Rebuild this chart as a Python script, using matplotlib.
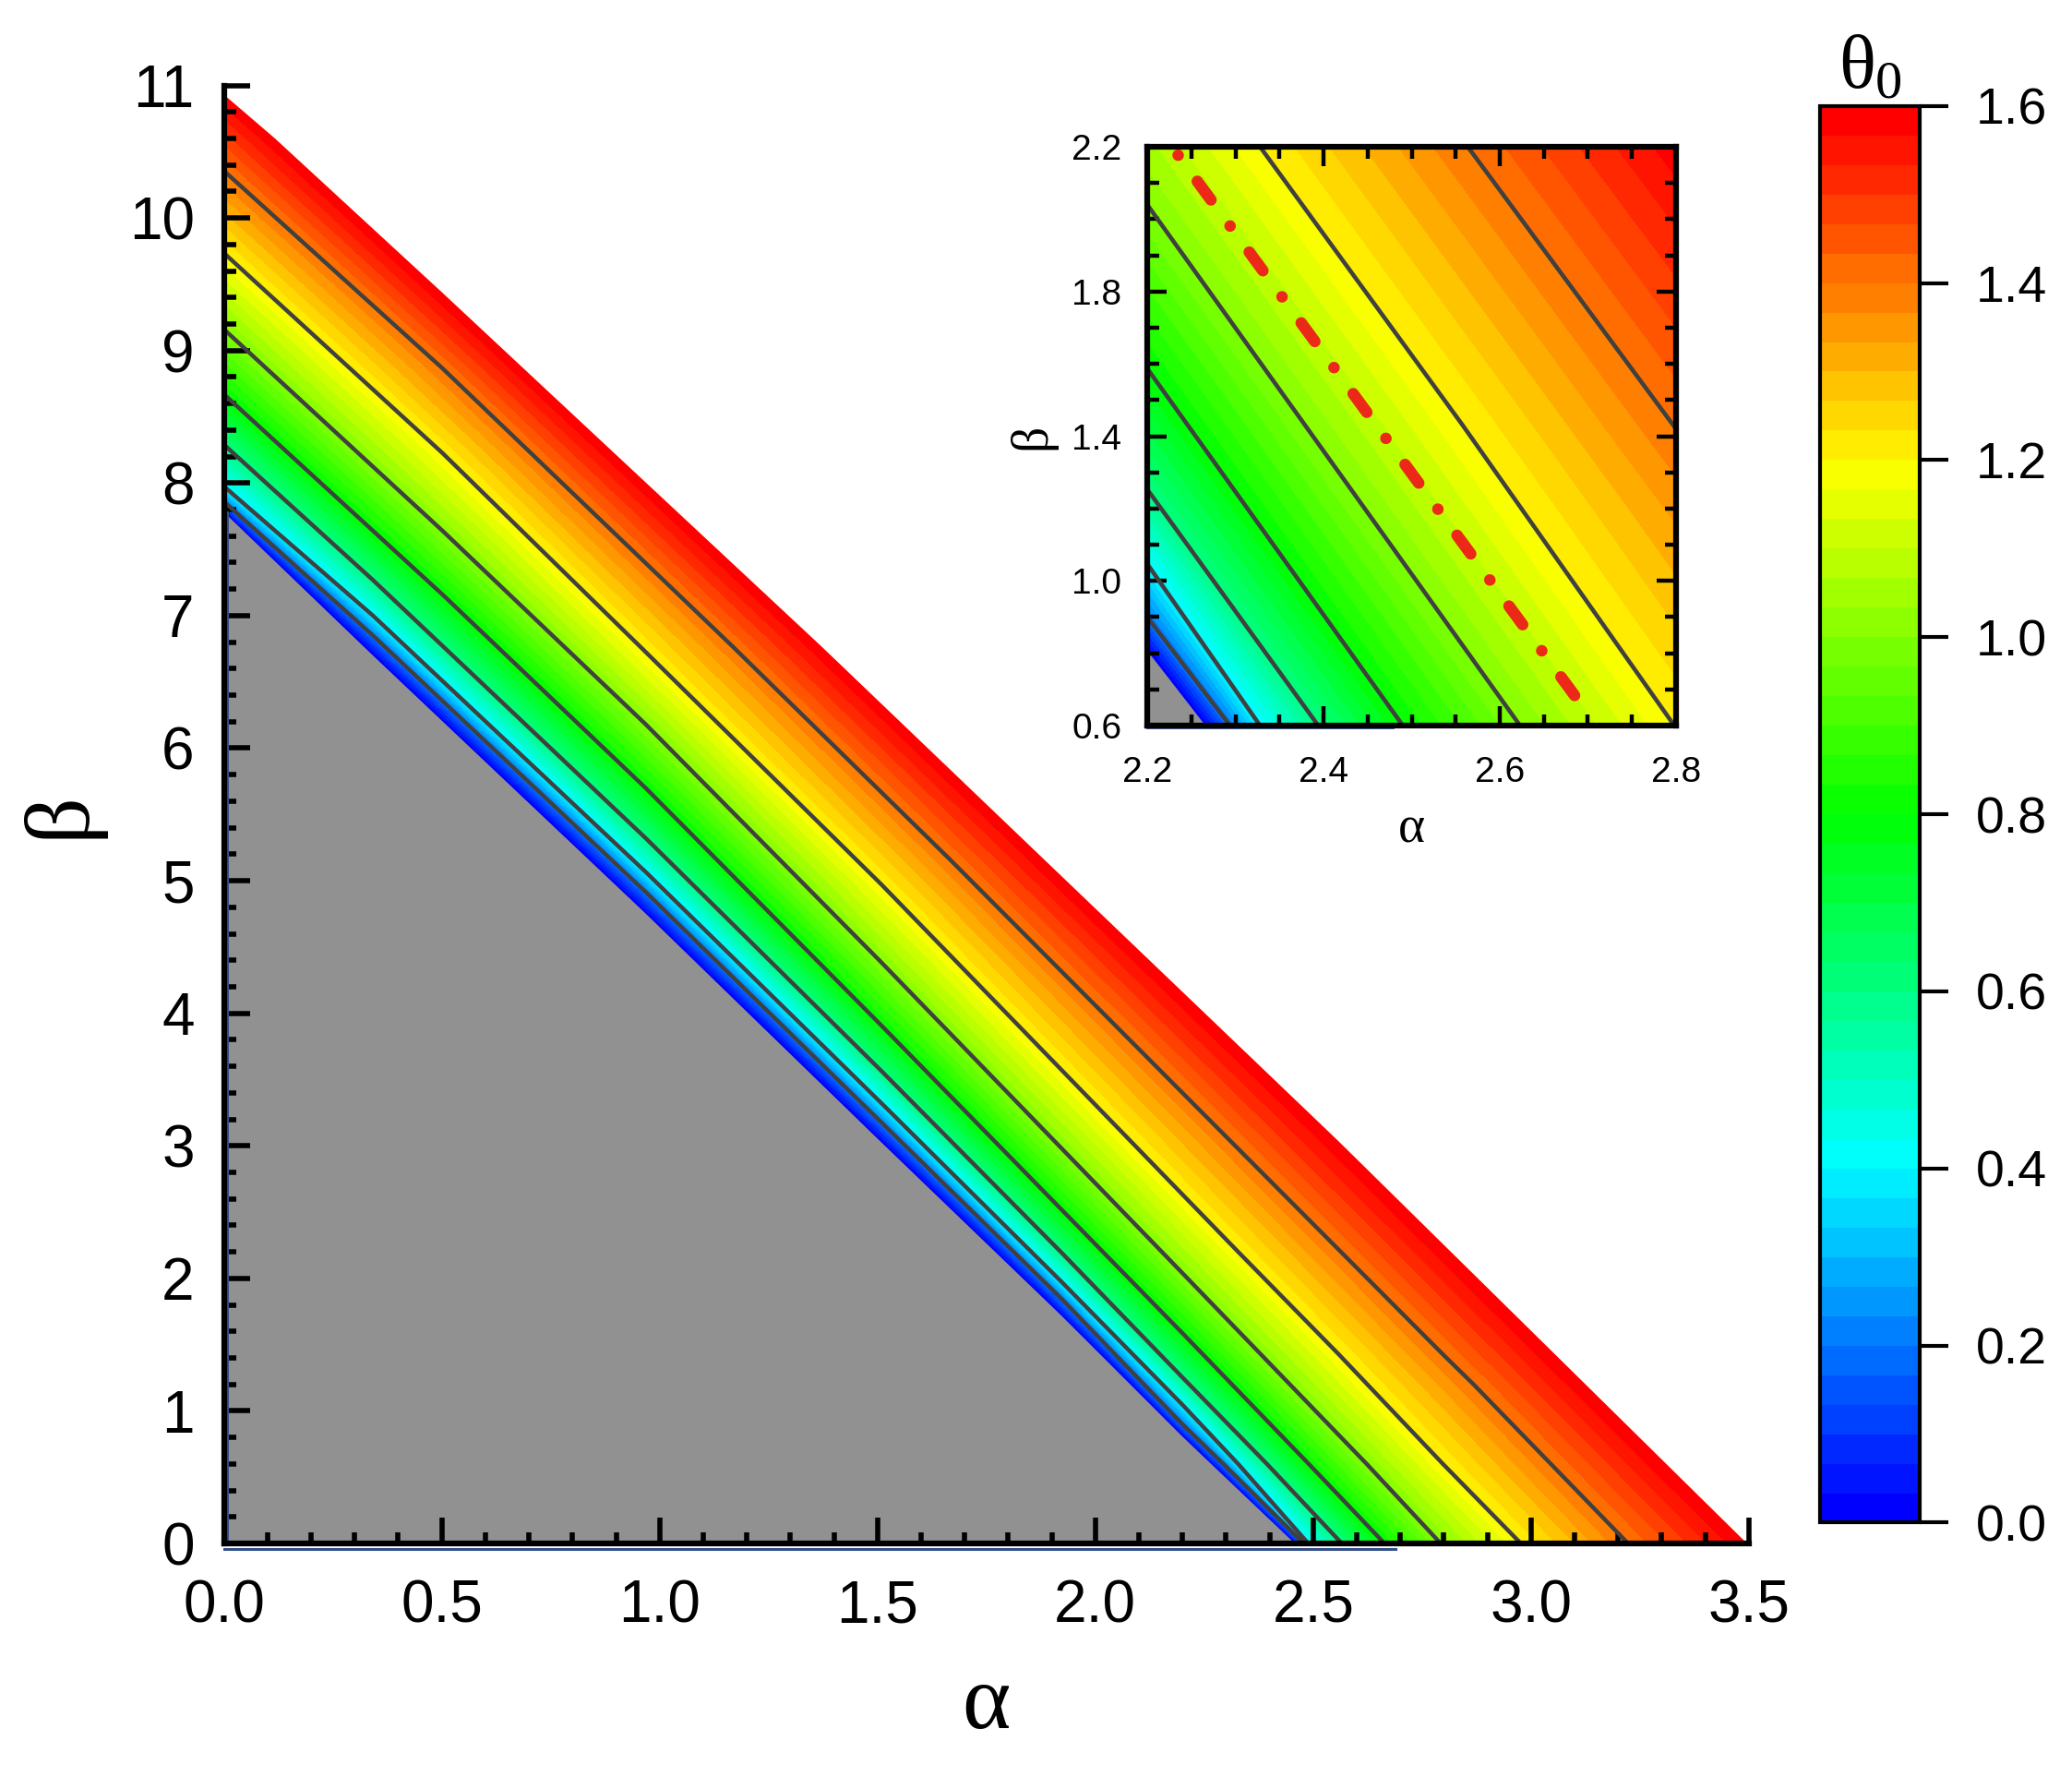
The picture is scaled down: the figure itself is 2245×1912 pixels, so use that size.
import numpy as np
import matplotlib
matplotlib.use("Agg")
import matplotlib.pyplot as plt
from matplotlib.colors import LinearSegmentedColormap
from matplotlib.ticker import MultipleLocator, FormatStrFormatter

plt.rcParams['font.family'] = ['Liberation Sans', 'DejaVu Sans']
plt.rcParams['mathtext.fontset'] = 'custom'
plt.rcParams['mathtext.rm'] = 'Liberation Serif'
plt.rcParams['mathtext.it'] = 'Liberation Serif'

# theta_0 levels and points (alpha, beta)
levels = [0.0, 0.2, 0.4, 0.6, 0.8, 1.0, 1.2, 1.4, 1.6]
line_alpha = [
    [0.0, 0.342, 0.969, 1.509, 1.922, 2.2, 2.266, 2.458],
    [0.0, 0.342, 0.969, 1.509, 1.922, 2.2, 2.294, 2.479],
    [0.0, 0.342, 0.969, 1.509, 1.922, 2.2, 2.328, 2.489],
    [0.0, 0.342, 0.969, 1.509, 1.922, 2.2, 2.394, 2.566],
    [0.0, 0.502, 0.969, 1.509, 2.2, 2.490, 2.664],
    [0.0, 0.502, 0.969, 1.509, 2.2, 2.623, 2.793],
    [0.0, 0.502, 0.969, 1.509, 2.328, 2.558, 2.798, 2.977],
    [0.0, 0.502, 1.167, 1.668, 2.558, 2.8, 2.869, 3.223],
    [0.0, 0.117, 0.502, 1.371, 2.558, 3.126, 3.496],
]
line_beta = [
    [7.78, 6.699, 4.749, 3.026, 1.72, 0.807, 0.6, 0.0],
    [7.86, 6.85, 4.912, 3.177, 1.848, 0.90, 0.6, 0.0],
    [7.975, 7.0, 5.063, 3.322, 1.976, 1.047, 0.6, 0.0],
    [8.29, 7.268, 5.318, 3.565, 2.196, 1.253, 0.6, 0.0],
    [8.67, 7.158, 5.696, 3.908, 1.587, 0.6, 0.0],
    [9.16, 7.639, 6.177, 4.384, 2.04, 0.6, 0.0],
    [9.735, 8.225, 6.722, 4.972, 2.2, 1.43, 0.6, 0.0],
    [10.355, 8.864, 6.769, 5.155, 2.219, 1.42, 1.198, 0.0],
    [10.93, 10.6, 9.434, 6.769, 3.036, 1.198, 0.0],
]

# red dash-dot line in the inset
red_alpha = [2.235, 2.694]
red_beta = [2.177, 0.653]

# short blue edge strokes seen along the lower/left borders
main_edge_alpha_end = 2.69
inset_edge_alpha_end = 2.478

n_bands = 48
cmap = LinearSegmentedColormap.from_list(
    'rb', ['#0000ff', '#00ffff', '#00ff00', '#ffff00', '#ff0000'])
band_colors = [cmap(v) for v in np.linspace(0, 1, n_bands)]
fill_levels = np.linspace(levels[0], levels[-1], n_bands + 1)


def alpha_on_line(k, b):
    bb = np.array(line_beta[k][::-1])
    aa = np.array(line_alpha[k][::-1])
    if b <= bb[-1]:
        return np.interp(b, bb, aa)
    slope = (aa[-1] - aa[-2]) / (bb[-1] - bb[-2])
    return aa[-1] + slope * (b - bb[-1])


def theta_field(a_grid, b_grid):
    T = np.empty((len(b_grid), len(a_grid)))
    for j, b in enumerate(b_grid):
        xs = np.maximum.accumulate([alpha_on_line(k, b) for k in range(len(levels))])
        T[j] = np.interp(a_grid, xs, levels)
    return np.clip(T, 0.0005, 1.5995)


def draw_field(ax, a_grid, b_grid, lw):
    A, B = np.meshgrid(a_grid, b_grid)
    cf = ax.contourf(A, B, theta_field(a_grid, b_grid),
                     levels=fill_levels, colors=band_colors, zorder=1)
    # gray region below theta_0 = 0, white above theta_0 = 1.6
    ax.fill(np.r_[line_alpha[0], 0.0], np.r_[line_beta[0], 0.0],
            color='#919191', lw=0, zorder=1.5)
    ax.fill(np.r_[line_alpha[-1], 4.0, 4.0, 0.0],
            np.r_[line_beta[-1], 0.0, 12.0, 12.0],
            color='white', lw=0, zorder=1.5)
    for k in range(1, len(levels) - 1):
        ax.plot(line_alpha[k], line_beta[k], color='#404040', lw=lw,
                solid_joinstyle='round', zorder=2)
    return cf


fig = plt.figure(figsize=(22.45, 19.12), dpi=100)

# ---- main panel
ax = fig.add_axes([0.1081, 0.1255, 0.7359, 0.8261])
cf = draw_field(ax, np.linspace(0, 3.5, 1200), np.linspace(0, 11, 1200), 3.2)
ax.plot([0.008, 0.008], [0, line_beta[0][0]], color='#34508a', lw=2.2,
        zorder=1.6)
ax.plot([0, main_edge_alpha_end], [-0.04, -0.04], color='#34508a', lw=2.2,
        clip_on=False, zorder=1.6)
ax.set_xlim(0, 3.5)
ax.set_ylim(0, 11)
ax.spines['top'].set_visible(False)
ax.spines['right'].set_visible(False)
for s in ('left', 'bottom'):
    ax.spines[s].set_linewidth(4.5)
ax.set_xticks(np.arange(0, 3.51, 0.5))
ax.set_yticks(np.arange(0, 12, 1))
ax.xaxis.set_major_formatter(FormatStrFormatter('%.1f'))
ax.xaxis.set_minor_locator(MultipleLocator(0.1))
ax.yaxis.set_minor_locator(MultipleLocator(0.2))
ax.tick_params(which='both', direction='in', top=False, right=False,
               width=4.0, labelsize=46)
ax.tick_params(which='major', length=20)
ax.tick_params(which='minor', length=9)
ax.tick_params(axis='x', pad=28)
ax.tick_params(axis='y', pad=23)
ax.set_xlabel('α', fontfamily='Liberation Serif', fontsize=72, labelpad=23)
ax.set_ylabel('β', fontfamily='Liberation Serif', fontsize=72, labelpad=20)

# ---- colorbar
cax = fig.add_axes([0.8784, 0.1373, 0.0481, 0.8027])
cb = fig.colorbar(cf, cax=cax, ticks=np.arange(0, 1.61, 0.2))
cb.outline.set_linewidth(3.0)
cb.ax.yaxis.set_major_formatter(FormatStrFormatter('%.1f'))
cb.ax.tick_params(length=22, width=3.0, labelsize=40, pad=22)
cax.set_title(r'$\theta_0$', fontsize=60, pad=14)

# ---- inset
ins = fig.add_axes([0.5537, 0.5889, 0.2552, 0.3279])
draw_field(ins, np.linspace(2.2, 2.8, 600), np.linspace(0.6, 2.2, 600), 3.3)
ins.plot(red_alpha, red_beta, color='#ec2818', lw=9,
         linestyle=(0, (0.01, 2.8, 2.0, 2.8)), dash_capstyle='round',
         zorder=3)
ins.plot([2.201, 2.201], [0.6, line_beta[0][5]], color='#34508a', lw=2,
         zorder=1.6)
ins.plot([2.2, inset_edge_alpha_end], [0.595, 0.595], color='#34508a', lw=2,
         clip_on=False, zorder=1.6)
ins.set_xlim(2.2, 2.8)
ins.set_ylim(0.6, 2.2)
for s in ins.spines.values():
    s.set_linewidth(4.5)
ins.set_xticks(np.arange(2.2, 2.81, 0.2))
ins.set_yticks(np.arange(0.6, 2.21, 0.4))
ins.xaxis.set_major_formatter(FormatStrFormatter('%.1f'))
ins.yaxis.set_major_formatter(FormatStrFormatter('%.1f'))
ins.xaxis.set_minor_locator(MultipleLocator(0.05))
ins.yaxis.set_minor_locator(MultipleLocator(0.1))
ins.tick_params(which='both', direction='in', top=True, right=True,
                width=3.2, labelsize=28)
ins.tick_params(which='major', length=15)
ins.tick_params(which='minor', length=9)
ins.tick_params(axis='x', pad=24)
ins.tick_params(axis='y', pad=20)
ins.set_xlabel('α', fontfamily='Liberation Serif', fontsize=40, labelpad=12)
ins.set_ylabel('β', fontfamily='Liberation Serif', fontsize=40, labelpad=12)

fig.savefig('out.png', dpi=100)
